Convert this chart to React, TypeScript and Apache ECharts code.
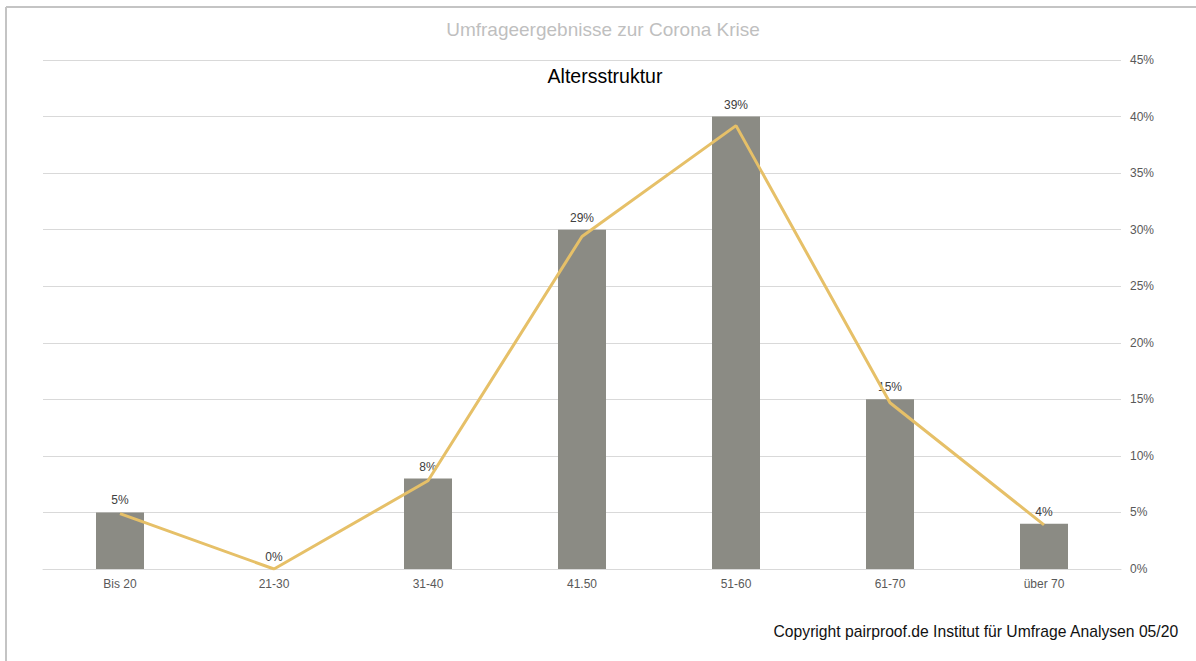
import React, { useEffect, useRef } from "react";
import * as echarts from "echarts";

const categories = ["Bis 20", "21-30", "31-40", "41.50", "51-60", "61-70", "über 70"];
const barValues = [5, 0, 8, 30, 40, 15, 4];
const lineValues = [4.9, 0, 7.8, 29.4, 39.2, 14.7, 3.9];
const mainTitle = "Umfrageergebnisse zur Corona Krise";
const subTitle = "Altersstruktur";
const copyright = "Copyright pairproof.de Institut für Umfrage Analysen 05/20";

export default function App() {
  const ref = useRef<HTMLDivElement>(null);
  useEffect(() => {
    if (!ref.current) return;
    const chart = echarts.init(ref.current, null, { renderer: "svg" });
    const font = "'Liberation Sans', Arial, sans-serif";
    chart.setOption({
      animation: false,
      backgroundColor: "#ffffff",
      textStyle: { fontFamily: font },
      title: [
        {
          text: mainTitle,
          left: 598,
          textAlign: "center",
          top: 15,
          textStyle: { color: "#bfbfbf", fontSize: 19, fontWeight: "normal", fontFamily: font },
        },
        {
          text: subTitle,
          left: 600,
          textAlign: "center",
          top: 61,
          textStyle: { color: "#000000", fontSize: 19.5, fontWeight: "normal", fontFamily: font },
        },
        {
          text: copyright,
          right: 12,
          top: 618,
          textStyle: { color: "#111111", fontSize: 15.7, fontWeight: "normal", fontFamily: font },
        },
      ],
      graphic: [
        { type: "line", shape: { x1: 6, y1: 7, x2: 1196, y2: 7 }, style: { stroke: "#c4c4c4", lineWidth: 2 } },
        { type: "line", shape: { x1: 6, y1: 7, x2: 6, y2: 661 }, style: { stroke: "#c4c4c4", lineWidth: 2 } },
      ],
      grid: { left: 43, right: 75, top: 60, bottom: 92, outerBoundsMode: "none", containLabel: false },
      xAxis: {
        type: "category",
        data: categories,
        axisLine: { show: true, lineStyle: { color: "#d9d9d9", width: 1 } },
        axisTick: { show: false },
        axisLabel: { color: "#595959", fontSize: 12, margin: 9, fontFamily: font },
      },
      yAxis: {
        type: "value",
        position: "right",
        min: 0,
        max: 45,
        interval: 5,
        axisLine: { show: false },
        axisTick: { show: false },
        splitLine: { lineStyle: { color: "#d9d9d9", width: 1 } },
        axisLabel: {
          color: "#595959",
          fontSize: 12,
          margin: 9,
          align: "left",
          fontFamily: font,
          formatter: (v: number) => v + "%",
        },
      },
      series: [
        {
          type: "bar",
          data: barValues,
          barWidth: 48,
          itemStyle: { color: "#8b8b84" },
          label: {
            show: true,
            position: "top",
            distance: 6,
            color: "#404040",
            fontSize: 12,
            fontFamily: font,
            formatter: (p: any) => Math.round(lineValues[p.dataIndex]) + "%",
          },
        },
        {
          type: "line",
          data: lineValues,
          symbol: "none",
          lineStyle: { color: "#e6c068", width: 3 },
          itemStyle: { color: "#e6c068" },
        },
      ],
    });
    return () => chart.dispose();
  }, []);
  return (
    <div
      ref={ref}
      style={{ position: "absolute", left: 0, top: 0, width: 1196, height: 661 }}
    />
  );
}
